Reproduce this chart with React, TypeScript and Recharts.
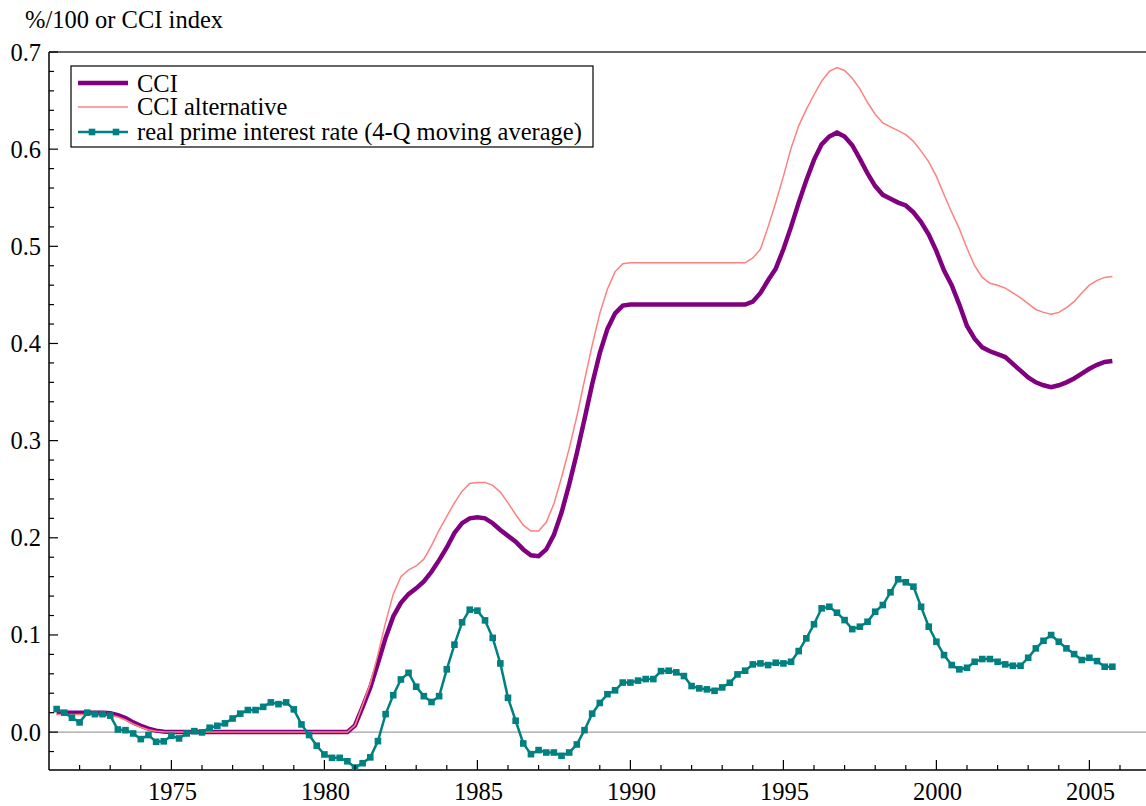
import { LineChart, Line, XAxis, YAxis, ReferenceLine } from 'recharts'

// quarterly observations, first quarter shown is 1971 Q2
const START = 1971.25

const cci = [
  0.020, 0.020, 0.020, 0.020, 0.020, 0.020, 0.020,
  0.0195, 0.0175, 0.0145, 0.010, 0.0065, 0.0035, 0.0015, 0.0005,
  0, 0, 0, 0, 0, 0, 0, 0, 0, 0, 0, 0, 0, 0, 0, 0, 0, 0, 0, 0, 0, 0, 0, 0,
  0.007, 0.026, 0.046, 0.071, 0.097, 0.119, 0.133, 0.142,
  0.148, 0.155, 0.165, 0.177, 0.190, 0.205, 0.215, 0.220,
  0.221, 0.220, 0.215, 0.208, 0.202, 0.196, 0.188, 0.182,
  0.181, 0.188, 0.203, 0.226, 0.255, 0.287, 0.322, 0.358,
  0.390, 0.415, 0.431, 0.439,
  0.440, 0.440, 0.440, 0.440, 0.440, 0.440, 0.440, 0.440,
  0.440, 0.440, 0.440, 0.440, 0.440, 0.440, 0.440, 0.440,
  0.443, 0.452, 0.465, 0.477, 0.497, 0.520, 0.545, 0.568,
  0.589, 0.605, 0.613, 0.617, 0.613, 0.604, 0.590, 0.575,
  0.562, 0.553, 0.549, 0.545, 0.542, 0.535, 0.525, 0.512,
  0.495, 0.475, 0.460, 0.440, 0.418, 0.405, 0.396, 0.392,
  0.389, 0.386, 0.379, 0.372, 0.365, 0.360, 0.357, 0.355,
  0.357, 0.360, 0.364, 0.369, 0.374, 0.378, 0.381, 0.382,
]

const cciAlt = [
  0.018, 0.018, 0.018, 0.018, 0.018, 0.018, 0.018,
  0.0175, 0.0155, 0.0125, 0.0085, 0.005, 0.0025, 0.001, 0.0003,
  0, 0, 0, 0, 0, 0, 0, 0, 0, 0, 0, 0, 0, 0, 0, 0, 0, 0, 0, 0, 0, 0, 0, 0,
  0.007, 0.028, 0.050, 0.080, 0.113, 0.142, 0.160, 0.167,
  0.171, 0.178, 0.192, 0.208, 0.222, 0.236, 0.248, 0.256,
  0.257, 0.257, 0.254, 0.247, 0.236, 0.224, 0.213, 0.207,
  0.207, 0.216, 0.235, 0.262, 0.292, 0.325, 0.362, 0.398,
  0.431, 0.456, 0.474, 0.482,
  0.483, 0.483, 0.483, 0.483, 0.483, 0.483, 0.483, 0.483,
  0.483, 0.483, 0.483, 0.483, 0.483, 0.483, 0.483, 0.483,
  0.488, 0.497, 0.520, 0.545, 0.572, 0.601, 0.624, 0.641,
  0.656, 0.670, 0.680, 0.684, 0.681, 0.673, 0.662, 0.648,
  0.636, 0.627, 0.623, 0.619, 0.615, 0.608, 0.598, 0.587,
  0.572, 0.553, 0.535, 0.518, 0.498, 0.480, 0.468, 0.462,
  0.460, 0.457, 0.452, 0.447, 0.441, 0.435, 0.432, 0.430,
  0.432, 0.437, 0.443, 0.452, 0.460, 0.465, 0.468, 0.469,
]

const realPrime = [
  0.0237, 0.020, 0.0148, 0.010, 0.020, 0.0185, 0.0185,
  0.017, 0.0027, 0.002, -0.0014, -0.0072, -0.003, -0.010, -0.0095,
  -0.0038, -0.0065, -0.0014, 0.001, -0.0003, 0.0045, 0.0065, 0.009,
  0.014, 0.019, 0.0227, 0.0227, 0.026, 0.0306, 0.0288, 0.0306,
  0.0234, 0.0079, -0.003, -0.014, -0.023, -0.0265, -0.0265, -0.030,
  -0.0365, -0.032, -0.026, -0.0093, 0.0185, 0.038, 0.0542, 0.061,
  0.0467, 0.037, 0.031, 0.037, 0.0646, 0.090, 0.113, 0.126,
  0.125, 0.115, 0.097, 0.0707, 0.0353, 0.0117, -0.0117, -0.0227,
  -0.0185, -0.021, -0.021, -0.0244, -0.021, -0.0127, 0.002, 0.019,
  0.030, 0.039, 0.043, 0.051,
  0.051, 0.053, 0.0546, 0.0546, 0.0628, 0.0632, 0.0615, 0.0577,
  0.0474, 0.045, 0.044, 0.0425, 0.046, 0.0508, 0.0594, 0.0632,
  0.0697, 0.0707, 0.069, 0.0714, 0.0707, 0.0724, 0.0834, 0.0965,
  0.111, 0.1274, 0.129, 0.1229, 0.1153, 0.106, 0.1085, 0.1136,
  0.1239, 0.1308, 0.1439, 0.1573, 0.1542, 0.1497, 0.129, 0.1085,
  0.093, 0.0793, 0.069, 0.0646, 0.0662, 0.0724, 0.0752, 0.0752,
  0.0724, 0.0697, 0.0683, 0.0683, 0.0765, 0.0862, 0.094, 0.0999,
  0.093, 0.0862, 0.0803, 0.0742, 0.0765, 0.0731, 0.0673, 0.0673,
]

const xTicks = [
  1972, 1973, 1974, 1975, 1976, 1977, 1978, 1979, 1980, 1981, 1982, 1983,
  1984, 1985, 1986, 1987, 1988, 1989, 1990, 1991, 1992, 1993, 1994, 1995,
  1996, 1997, 1998, 1999, 2000, 2001, 2002, 2003, 2004, 2005, 2006,
]

const yTicks = [
  -0.02, 0, 0.02, 0.04, 0.06, 0.08, 0.1, 0.12, 0.14, 0.16, 0.18, 0.2,
  0.22, 0.24, 0.26, 0.28, 0.3, 0.32, 0.34, 0.36, 0.38, 0.4, 0.42, 0.44,
  0.46, 0.48, 0.5, 0.52, 0.54, 0.56, 0.58, 0.6, 0.62, 0.64, 0.66, 0.68, 0.7,
]

const data = cci.map((v, i) => ({
  t: START + i / 4,
  cci: v,
  alt: cciAlt[i],
  rate: realPrime[i],
}))

const FONT = "'Liberation Serif', 'Times New Roman', serif"
const FS = 24.5
const W = 1146
const H = 806
const PLOT_LEFT = 49
const PLOT_TOP = 52
const PLOT_BOTTOM = 770

const PURPLE = '#800080'
const PINK = '#ff8080'
const TEAL = '#008080'

function XTick({ x, payload }: any) {
  const v = payload.value
  const major = v % 5 === 0
  return (
    <g>
      <line x1={x} x2={x} y1={PLOT_BOTTOM} y2={PLOT_BOTTOM - (major ? 10 : 5)} stroke="#000" strokeWidth={1.2} />
      {major && (
        <text x={x + 1} y={800} textAnchor="middle" fontFamily={FONT} fontSize={FS} fill="#000">{v}</text>
      )}
    </g>
  )
}

function YTick({ y, payload }: any) {
  const v = payload.value
  const major = Math.round(v * 100) % 10 === 0
  return (
    <g>
      <line x1={PLOT_LEFT} x2={PLOT_LEFT + (major ? 9 : 5)} y1={y} y2={y} stroke="#000" strokeWidth={1.2} />
      {major && (
        <text x={41} y={y + 8.5} textAnchor="end" fontFamily={FONT} fontSize={FS} fill="#000">{v.toFixed(1)}</text>
      )}
    </g>
  )
}

function SquareDot({ cx, cy, index }: any) {
  return <rect key={index} x={cx - 3.3} y={cy - 3.3} width={6.6} height={6.6} fill={TEAL} />
}

function ChartLegend() {
  return (
    <svg width={524} height={83} style={{ position: 'absolute', left: 70, top: 65 }}>
      <rect x={1} y={1} width={522} height={81} fill="#fff" stroke="#000" strokeWidth={1.2} />
      <line x1={8} x2={58} y1={18} y2={18} stroke={PURPLE} strokeWidth={4.5} />
      <text x={67} y={26.5} fontFamily={FONT} fontSize={FS}>CCI</text>
      <line x1={8} x2={58} y1={42} y2={42} stroke={PINK} strokeWidth={1.5} />
      <text x={67} y={50} fontFamily={FONT} fontSize={FS}>CCI alternative</text>
      <line x1={8} x2={58} y1={67} y2={67} stroke={TEAL} strokeWidth={2.5} />
      <rect x={18.7} y={63.7} width={6.6} height={6.6} fill={TEAL} />
      <rect x={42.7} y={63.7} width={6.6} height={6.6} fill={TEAL} />
      <text x={67} y={74.5} fontFamily={FONT} fontSize={FS}>real prime interest rate (4-Q moving average)</text>
    </svg>
  )
}

export default function App() {
  return (
    <div style={{ position: 'absolute', left: 0, top: 0, width: W, height: H, background: '#fff', overflow: 'hidden' }}>
      <svg width={260} height={40} style={{ position: 'absolute', left: 0, top: 0 }}>
        <text x={25} y={28} fontFamily={FONT} fontSize={FS}>%/100 or CCI index</text>
      </svg>
      <LineChart
        width={W}
        height={H}
        data={data}
        margin={{ top: PLOT_TOP, right: 0, bottom: 0, left: 0 }}
      >
        <XAxis
          type="number"
          dataKey="t"
          domain={[1971, 2006.85]}
          allowDataOverflow
          ticks={xTicks}
          interval={0}
          tickLine={false}
          axisLine={{ stroke: '#000', strokeWidth: 1.5 }}
          tick={<XTick />}
          height={H - PLOT_BOTTOM}
        />
        <YAxis
          type="number"
          domain={[-0.039, 0.7]}
          allowDataOverflow
          ticks={yTicks}
          interval={0}
          tickLine={false}
          axisLine={{ stroke: '#000', strokeWidth: 1.5 }}
          tick={<YTick />}
          width={PLOT_LEFT}
        />
        <ReferenceLine y={0} stroke="#888" strokeWidth={1} />
        <ReferenceLine y={0.7} stroke="#333" strokeWidth={1.5} />
        <Line type="linear" dataKey="cci" stroke={PURPLE} strokeWidth={4.5} dot={false} isAnimationActive={false} />
        <Line type="linear" dataKey="alt" stroke={PINK} strokeWidth={1.5} dot={false} isAnimationActive={false} />
        <Line type="linear" dataKey="rate" stroke={TEAL} strokeWidth={2.5} dot={<SquareDot />} isAnimationActive={false} />
      </LineChart>
      <ChartLegend />
    </div>
  )
}
